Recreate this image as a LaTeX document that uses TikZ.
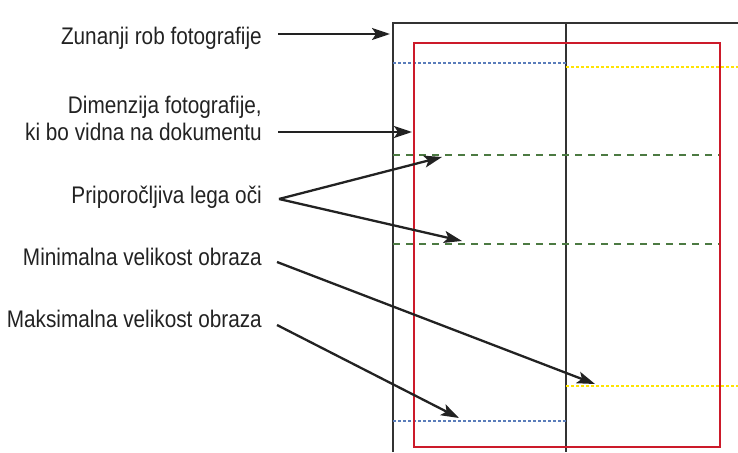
\documentclass[tikz,border=0pt]{standalone}
\usepackage{fontspec}
\setmainfont[FakeStretch=0.865]{Liberation Sans}
\usetikzlibrary{arrows.meta}
\definecolor{framec}{HTML}{333333}
\definecolor{redc}{HTML}{CC1A2A}
\definecolor{bluec}{HTML}{5A7DBA}
\definecolor{yelc}{HTML}{FFE400}
\definecolor{greenc}{HTML}{4C7A42}
\definecolor{textc}{HTML}{222222}
\tikzset{
  lbl/.style={anchor=base east, inner sep=0pt, text=textc, font=\fontsize{24}{27}\selectfont},
  frameline/.style={draw=framec, line width=1.4pt},
  redbox/.style={draw=redc, line width=1.5pt},
  bluedot/.style={draw=bluec, line width=1.3pt, dash pattern=on 3pt off 2pt},
  yeldot/.style={draw=yelc, line width=1.5pt, dash pattern=on 3pt off 2pt},
  greendash/.style={draw=greenc, line width=1.2pt, dash pattern=on 7pt off 6pt},
  pointer/.style={draw=textc, line width=2.3pt, -{Stealth[length=18pt,width=12pt,inset=4pt]}}
}
\begin{document}
\begin{tikzpicture}[x=1pt,y=-1pt]
\useasboundingbox (0,0) rectangle (738,452);
% photo frame
\draw[frameline] (393,452) -- (393,23) -- (738,23);
\draw[frameline] (566,23) -- (566,452);
% guide lines
\draw[bluedot] (393,63) -- (566,63);
\draw[yeldot] (566,67) -- (738,67);
\draw[greendash] (393,155) -- (720,155);
\draw[greendash] (393,244) -- (720,244);
\draw[yeldot] (566,386) -- (738,386);
\draw[bluedot] (393,421) -- (566,421);
% visible dimension
\draw[redbox] (414,43) rectangle (720,447);
% labels
\node[lbl] (t1) at (262,45) {Zunanji rob fotografije};
\node[lbl] (t2a) at (262,113) {Dimenzija fotografije,};
\node[lbl] (t2b) at (262,140) {ki bo vidna na dokumentu};
\node[lbl] (t3) at (262,203) {Priporočljiva lega oči};
\node[lbl] (t4) at (262,265) {Minimalna velikost obraza};
\node[lbl] (t5) at (262,327) {Maksimalna velikost obraza};
% pointer start / end coordinates
\coordinate (s1) at (278,34);
\coordinate (e1) at (390,34);
\coordinate (s2) at (278,132);
\coordinate (e2) at (412,132);
\coordinate (s3) at (279,199);
\coordinate (e3a) at (442,157);
\coordinate (e3b) at (462,241);
\coordinate (s4) at (277,262);
\coordinate (e4) at (595,384);
\coordinate (s5) at (277,325);
\coordinate (e5) at (459,418);
\draw[pointer] (s1) -- (e1);
\draw[pointer] (s2) -- (e2);
\draw[pointer] (s3) -- (e3a);
\draw[pointer] (s3) -- (e3b);
\draw[pointer] (s4) -- (e4);
\draw[pointer] (s5) -- (e5);
\end{tikzpicture}
\end{document}
